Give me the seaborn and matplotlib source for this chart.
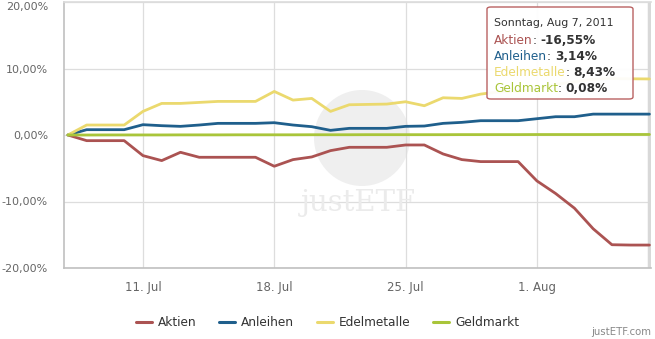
import numpy as np
import pandas as pd
import matplotlib
matplotlib.use("Agg")
import matplotlib.pyplot as plt
import matplotlib.transforms as mtransforms
from matplotlib.patches import FancyBboxPatch, Ellipse
from matplotlib.lines import Line2D
from matplotlib.text import Annotation
import seaborn as sns

# ---------------- data ----------------
dates = pd.date_range("2011-07-07", "2011-08-07", freq="D")
aktien = [0, -0.85, -0.85, -0.85, -3.1, -3.85, -2.6, -3.35, -3.35, -3.35, -3.35,
          -4.7, -3.7, -3.3, -2.35, -1.85, -1.85, -1.85, -1.5, -1.5, -2.85, -3.7,
          -4.0, -4.0, -4.0, -6.9, -8.8, -11.0, -14.1, -16.5, -16.55, -16.55]
anleihen = [0, 0.8, 0.8, 0.8, 1.55, 1.4, 1.3, 1.5, 1.75, 1.75, 1.75,
            1.85, 1.5, 1.25, 0.7, 1.0, 1.0, 1.0, 1.3, 1.35, 1.75, 1.9,
            2.15, 2.15, 2.15, 2.45, 2.75, 2.75, 3.14, 3.14, 3.14, 3.14]
edelmetalle = [0, 1.5, 1.5, 1.5, 3.55, 4.75, 4.75, 4.9, 5.05, 5.05, 5.05,
               6.55, 5.25, 5.5, 3.55, 4.55, 4.6, 4.65, 5.0, 4.4, 5.6, 5.5,
               6.15, 6.5, 6.6, 7.0, 7.6, 8.0, 8.4, 8.5, 8.45, 8.43]
geldmarkt = [0, 0.0, 0.01, 0.01, 0.01, 0.01, 0.02, 0.02, 0.02, 0.03, 0.03,
             0.03, 0.03, 0.04, 0.04, 0.04, 0.05, 0.05, 0.05, 0.05, 0.05, 0.06,
             0.06, 0.06, 0.06, 0.07, 0.07, 0.07, 0.07, 0.08, 0.08, 0.08]
series_names = ["Aktien", "Anleihen", "Edelmetalle", "Geldmarkt"]
series_colors = ["#ab5352", "#1f5f8c", "#ebd96e", "#a9c53a"]
yticks = [-20, -10, 0, 10, 20]
ytick_labels = ["-20,00%", "-10,00%", "0,00%", "10,00%", "20,00%"]
xtick_dates = ["2011-07-11", "2011-07-18", "2011-07-25", "2011-08-01"]
xtick_labels = ["11. Jul", "18. Jul", "25. Jul", "1. Aug"]
tooltip_date = "Sonntag, Aug 7, 2011"
tooltip_values = ["-16,55%", "3,14%", "8,43%", "0,08%"]

df = pd.DataFrame({"Datum": np.tile(dates, 4),
                   "Wert": aktien + anleihen + edelmetalle + geldmarkt,
                   "Serie": np.repeat(series_names, len(dates))})

# ---------------- figure ----------------
W, H = 655, 339
sns.set_theme(style="white")
plt.rcParams["font.family"] = ["DejaVu Sans"]
fig = plt.figure(figsize=(W / 100, H / 100), dpi=100)
fig.patch.set_facecolor("white")

def fx(px):
    return px / W

def fy(py):
    return 1 - py / H

AX_L, AX_R, AX_T, AX_B = 64, 651, 2, 268
ax = fig.add_axes([fx(AX_L), fy(AX_B), fx(AX_R) - fx(AX_L), fy(AX_T) - fy(AX_B)])
axw, axh = AX_R - AX_L, AX_B - AX_T

def ax_x(px):
    return (px - AX_L) / axw

def ax_y(py):
    return (AX_B - py) / axh

# watermark (behind lines)
r = 48
ax.add_patch(Ellipse((ax_x(362), ax_y(138)), 2 * r / axw, 2 * r / axh,
                     transform=ax.transAxes, facecolor="#efefef",
                     edgecolor="none", zorder=0.5))
ax.text(ax_x(358), ax_y(203), "justETF", transform=ax.transAxes,
        ha="center", va="center", fontsize=21, family="DejaVu Serif",
        color="#ebebeb", zorder=0.6)

sns.lineplot(data=df, x="Datum", y="Wert", hue="Serie", hue_order=series_names,
             palette=series_colors, linewidth=2.0, ax=ax, legend=False, zorder=3)

ax.set_xlim(dates[0] - pd.Timedelta(hours=5), dates[-1] + pd.Timedelta(hours=2))
ax.set_ylim(-20, 20)
ax.set_yticks(yticks)
ax.set_yticklabels(ytick_labels)
ax.set_xticks(pd.to_datetime(xtick_dates))
ax.set_xticklabels(xtick_labels)
ax.set_xlabel("")
ax.set_ylabel("")
ax.grid(True, color="#dddddd", linewidth=0.9)
ax.set_axisbelow(True)
ax.tick_params(axis="both", length=0, colors="#666666")
ax.tick_params(axis="y", pad=11.5, labelsize=8)
ax.tick_params(axis="x", pad=9, labelsize=8.5)
# keep the top tick label inside the canvas
top_lbl = ax.get_yticklabels()[-1]
top_lbl.set_transform(top_lbl.get_transform() +
                      mtransforms.ScaledTranslation(0, -3 / 72, fig.dpi_scale_trans))
for side in ["left", "bottom", "top"]:
    ax.spines[side].set_visible(True)
    ax.spines[side].set_color("#c0c0c0")
    ax.spines[side].set_linewidth(1.2)
ax.spines["top"].set_color("#dcdcdc")
ax.spines["right"].set_visible(False)

# crosshair at hovered date
ax.axvline(dates[-1], color="#d8d8d8", linewidth=2.5, zorder=2)

# legend
handles = [Line2D([0], [0], color=c, linewidth=2.2) for c in series_colors]
leg = fig.legend(handles, series_names, loc="center", ncol=4,
                 bbox_to_anchor=(0.5, fy(323)), frameon=False, fontsize=8.7,
                 handlelength=1.3, handletextpad=0.5, columnspacing=1.9)
for t in leg.get_texts():
    t.set_color("#333333")

# tooltip
box = FancyBboxPatch((fx(487), fy(99)), fx(633) - fx(487), fy(7) - fy(99),
                     boxstyle="round,pad=0,rounding_size=0.006",
                     transform=fig.transFigure, facecolor="white",
                     edgecolor="#b65a5a", linewidth=1.0, alpha=0.95, zorder=10)
fig.add_artist(box)
fig.text(fx(494), fy(23), tooltip_date, fontsize=7.9, color="#333333",
         va="center", zorder=11)
line_y = [41, 57, 72, 88]
for name, col, val, yy in zip(series_names, series_colors, tooltip_values, line_y):
    t1 = fig.text(fx(494), fy(yy), name, fontsize=8.7, color=col,
                  va="center", zorder=11)
    a2 = Annotation(": ", xy=(1, 0), xycoords=t1, va="bottom", ha="left",
                    fontsize=8.7, color="#333333", annotation_clip=False)
    a2.set_zorder(11)
    fig.add_artist(a2)
    a3 = Annotation(val, xy=(1, 0), xycoords=a2, va="bottom", ha="left",
                    fontsize=8.7, color="#333333", weight="bold",
                    annotation_clip=False)
    a3.set_zorder(11)
    fig.add_artist(a3)

# footer credit
fig.text(fx(651), fy(332), "justETF.com", ha="right", va="center",
         fontsize=7.3, color="#888888")

fig.savefig("out.png", dpi=100, facecolor="white")
